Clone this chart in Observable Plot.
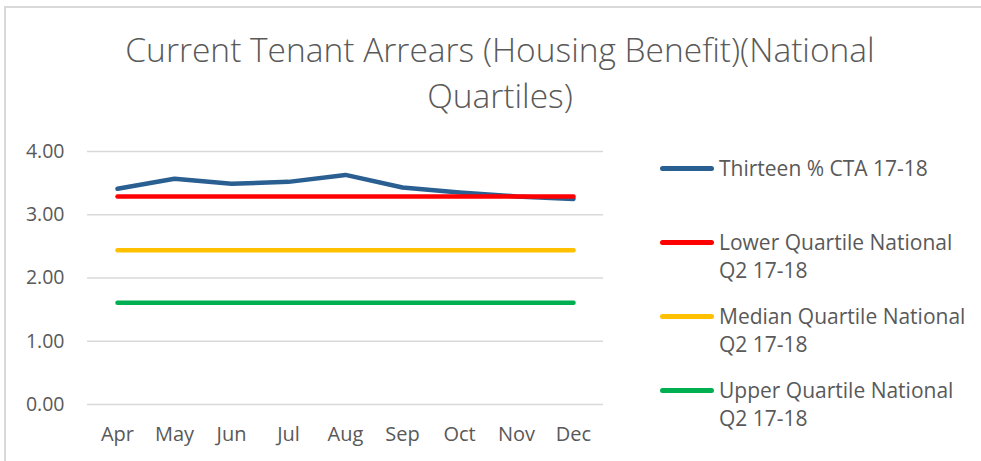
<!DOCTYPE html>
<html>
<head>
<meta charset="utf-8">
<script src="https://cdn.jsdelivr.net/npm/d3@7"></script>
<script src="https://cdn.jsdelivr.net/npm/@observablehq/plot@0.6"></script>
<style>
  html, body { margin: 0; padding: 0; background: #fff; }
  #wrap { position: relative; width: 981px; height: 461px; overflow: hidden; font-family: "Open Sans", Lato, sans-serif; color: #595959; }
  #border { position: absolute; left: 4px; top: 6px; right: -5px; bottom: -5px; border-top: 2px solid #d9d9d9; border-left: 2px solid #d9d9d9; }
  #title { position: absolute; left: 20px; width: 960px; top: 26px; text-align: center; font-size: 33.5px; line-height: 46px; font-weight: 300; color: #595959; }
  #chart { position: absolute; left: 0; top: 0; }
  .leg { position: absolute; left: 660px; font-size: 21px; line-height: 28px; color: #595959; }
  .leg .sw { position: absolute; left: 0; width: 54px; height: 5px; border-radius: 3px; }
  .leg .tx { position: absolute; left: 59px; white-space: nowrap; }
</style>
</head>
<body>
<div id="wrap">
  <div id="border"></div>
  <div id="title">Current Tenant Arrears (Housing Benefit)(National<br>Quartiles)</div>
  <div id="chart"></div>
</div>
<script>
const months = ["Apr","May","Jun","Jul","Aug","Sep","Oct","Nov","Dec"];
const seriesNames = ["Thirteen % CTA 17-18", "Lower Quartile National Q2 17-18", "Median Quartile National Q2 17-18", "Upper Quartile National Q2 17-18"];
const legendLines = [["Thirteen % CTA 17-18"], ["Lower Quartile National", "Q2 17-18"], ["Median Quartile National", "Q2 17-18"], ["Upper Quartile National", "Q2 17-18"]];
const colors = ["#2a5f91", "#ff0000", "#ffc000", "#00b050"];
const thirteen = [3.41, 3.57, 3.49, 3.52, 3.63, 3.43, 3.35, 3.29, 3.25];
const lowerQ = [3.29, 3.29, 3.29, 3.29, 3.29, 3.29, 3.29, 3.29, 3.29];
const medianQ = [2.44, 2.44, 2.44, 2.44, 2.44, 2.44, 2.44, 2.44, 2.44];
const upperQ = [1.61, 1.61, 1.61, 1.61, 1.61, 1.61, 1.61, 1.61, 1.61];
const yTicks = [0, 1, 2, 3, 4];

const allSeries = [thirteen, lowerQ, medianQ, upperQ];
const data = [];
allSeries.forEach((vals, si) => vals.forEach((v, i) => data.push({series: seriesNames[si], month: months[i], value: v})));

const chart = Plot.plot({
  width: 981,
  height: 461,
  marginLeft: 87,
  marginRight: 378,
  marginTop: 151,
  marginBottom: 57,
  style: {fontFamily: "'Open Sans', Lato, sans-serif", fontSize: "19px", color: "#595959", background: "transparent"},
  x: {type: "point", domain: months, padding: 0.5, label: null},
  y: {domain: [0, 4], label: null},
  color: {domain: seriesNames, range: colors},
  marks: [
    Plot.ruleY(yTicks, {stroke: "#d9d9d9", strokeWidth: 1.5}),
    Plot.axisY({ticks: yTicks, tickFormat: d3.format(".2f"), tickSize: 0, tickPadding: 23, fill: "#595959", fontSize: 19.5, label: null}),
    Plot.axisX({tickSize: 0, tickPadding: 22, fill: "#595959", fontSize: 20, label: null}),
    Plot.line(data, {x: "month", y: "value", z: "series", stroke: "series", strokeWidth: 4.5, strokeLinecap: "round", strokeLinejoin: "round"})
  ]
});
document.getElementById("chart").appendChild(chart);

const legTops = [154, 228, 302, 376];
legendLines.forEach((lines, i) => {
  const d = document.createElement("div");
  d.className = "leg";
  d.style.top = legTops[i] + "px";
  d.innerHTML = `<div class="sw" style="background:${colors[i]};top:12px"></div><div class="tx">${lines.join("<br>")}</div>`;
  document.getElementById("wrap").appendChild(d);
});
</script>
</body>
</html>
